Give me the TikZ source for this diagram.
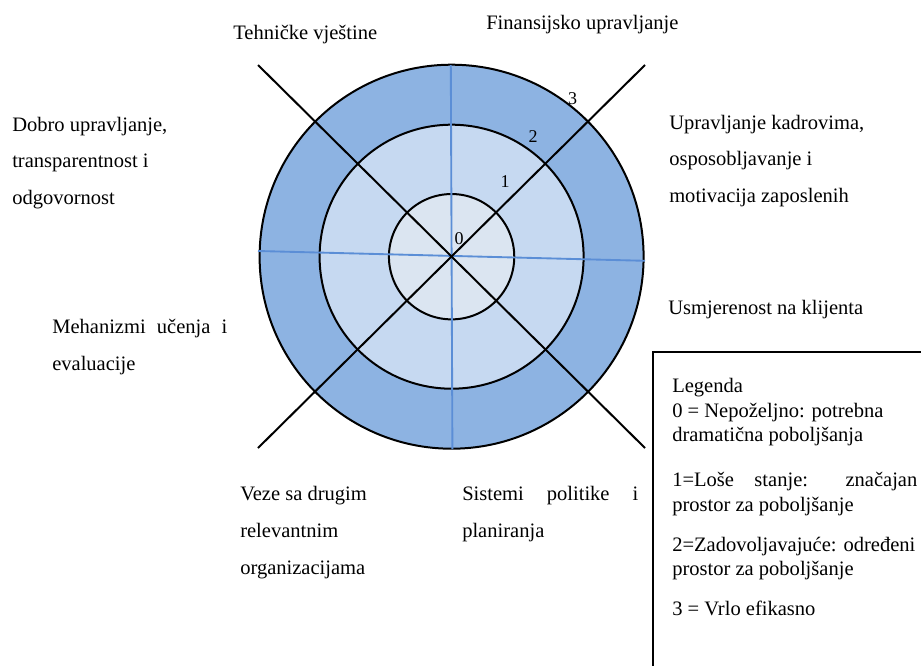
\documentclass[tikz,border=0pt]{standalone}
\usepackage{fontspec}
\setmainfont{Liberation Serif}
\definecolor{ringouter}{HTML}{8DB3E2}
\definecolor{ringmid}{HTML}{C6D9F1}
\definecolor{ringinner}{HTML}{DBE5F1}
\definecolor{axisblue}{HTML}{5B8ED6}
\begin{document}
\begin{tikzpicture}[x=0.75pt,y=-0.75pt,
  ring/.style={circle,draw=black,line width=1.5pt,inner sep=0pt,outer sep=0pt},
  spoke/.style={draw=black,line width=1.5pt},
  axis/.style={draw=axisblue,line width=1.4pt},
  % multi-line labels sit on the baseline of their last line
  lbl/.style={anchor=base west,inner sep=0pt,align=left,
    font=\fontsize{15.4}{27.4}\selectfont},
  lvl/.style={inner sep=0pt,font=\fontsize{13.5}{16}\selectfont},
  legendframe/.style={draw=black,line width=1.5pt,anchor=north west,
    minimum width=300pt,minimum height=300pt,inner sep=0pt},
  legendtext/.style={anchor=base west,inner sep=0pt,align=left,
    font=\fontsize{15.4}{18.4}\selectfont}]
\useasboundingbox (0,0) rectangle (921,665);
\clip (0,0) rectangle (921,665);

% concentric rating rings
\coordinate (c) at (451.6,256.7);
\node[ring,fill=ringouter,minimum size=288pt] (outer) at (c) {};
\node[ring,fill=ringmid,minimum size=198pt] (middle) at (c) {};
\node[ring,fill=ringinner,minimum size=94pt] (inner) at (c) {};

% spoke end points
\coordinate (nw) at (258,65);
\coordinate (se) at (645,448);
\coordinate (ne) at (645,65);
\coordinate (sw) at (258,448);
\coordinate (vt) at (450.8,65);
\coordinate (vb) at (452.4,449);
\coordinate (hl) at (258,251);
\coordinate (hr) at (645,260.8);

% sector dividers
\draw[axis] (vt) -- (vb);
\draw[axis] (hl) -- (hr);
\draw[spoke] (nw) -- (se);
\draw[spoke] (ne) -- (sw);

% level numbers
\node[lvl] (l3) at (572.7,99) {3};
\node[lvl] (l2) at (533,137) {2};
\node[lvl] (l1) at (505,182) {1};
\node[lvl] (l0) at (459,239) {0};

% capacity areas
\node[lbl] (teh) at (233,39) {Tehničke vještine};
\node[lbl] (fin) at (486,29) {Finansijsko upravljanje};
\node[lbl] (dobro) at (12,204.5) {Dobro upravljanje,\\transparentnost i\\odgovornost};
\node[lbl] (kadr) at (669,202.5) {Upravljanje kadrovima,\\osposobljavanje i\\motivacija zaposlenih};
\node[lbl] (klij) at (668,314) {Usmjerenost na klijenta};
\node[lbl] (meh) at (52,370) {\makebox[131.3pt][s]{Mehanizmi učenja i}\\evaluacije};
\node[lbl] (veze) at (240,574) {Veze sa drugim\\relevantnim\\organizacijama};
\node[lbl] (sist) at (462,537) {\makebox[132pt][s]{Sistemi politike i}\\planiranja};

% legend
\node[legendframe] (legend) at (652,351) {};
\node[legendtext] (legtext) at (672,615) {Legenda\\
0 = Nepoželjno: potrebna\\
dramatična poboljšanja\\[15.3pt]
\makebox[183.8pt][s]{1=Loše stanje: značajan}\\
prostor za poboljšanje\\[11.6pt]
2=Zadovoljavajuće: određeni\\
prostor za poboljšanje\\[11pt]
3 = Vrlo efikasno};
\end{tikzpicture}
\end{document}
